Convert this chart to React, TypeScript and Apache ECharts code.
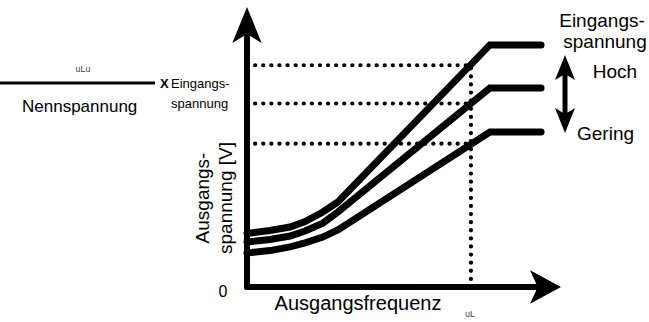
import React, { useEffect, useRef } from "react";
import * as echarts from "echarts";

// Output frequency positions (x axis units) of the curve points
const xFreq = [0, 7.6, 14.3, 19.3, 25.2, 30.2, 80.7, 97.7];
// Output voltage for high / middle / low input voltage
const highVoltage = [20.3, 21.4, 22.7, 24.8, 28.4, 32.2, 91.7, 91.7];
const midVoltage = [17.0, 18.0, 19.3, 21.2, 24.2, 28.4, 75.4, 75.4];
const lowVoltage = [12.9, 13.8, 15.2, 16.7, 18.9, 21.6, 58.7, 58.7];
// Rated (base) frequency and the reference voltage levels at it
const ratedFreq = 74.4;
const refLevels = [84, 69.5, 54.3];

const FONT = '"Liberation Sans", Arial, sans-serif';

export default function App() {
  const ref = useRef<HTMLDivElement>(null);
  useEffect(() => {
    if (!ref.current) return;
    const chart = echarts.init(ref.current, null, { renderer: "svg" });
    const curve = (name: string, ys: number[]) => ({
      name,
      type: "line",
      data: xFreq.map((x, i) => [x, ys[i]]),
      symbol: "none",
      clip: true,
      z: 5,
      lineStyle: { color: "#000", width: 7, cap: "round", join: "miter" },
    });
    const dotted = (name: string, data: number[][]) => ({
      name,
      type: "line",
      data,
      symbol: "none",
      clip: false,
      z: 3,
      lineStyle: { color: "#000", width: 4.2, type: [0.1, 8], cap: "round" },
    });
    const txt = (text: string, x: number, y: number, size: number, align = "left", extra: any = {}) => ({
      type: "text",
      x,
      y,
      style: {
        text,
        fill: "#000",
        fontSize: size,
        fontFamily: FONT,
        align,
        verticalAlign: "middle",
        ...extra,
      },
    });
    const option: any = {
      animation: false,
      backgroundColor: "#fff",
      grid: { left: 247, right: 101, top: 23, bottom: 35 },
      xAxis: {
        type: "value",
        min: 0,
        max: 100,
        axisLine: {
          show: true,
          symbol: ["none", "arrow"],
          symbolSize: [25, 31],
          symbolOffset: [0, 13],
          lineStyle: { color: "#000", width: 6 },
        },
        axisTick: { show: false },
        axisLabel: { show: false },
        splitLine: { show: false },
      },
      yAxis: {
        type: "value",
        min: 0,
        max: 100,
        axisLine: {
          show: true,
          symbol: ["none", "arrow"],
          symbolSize: [22, 36],
          symbolOffset: [0, 16],
          lineStyle: { color: "#000", width: 6 },
        },
        axisTick: { show: false },
        axisLabel: { show: false },
        splitLine: { show: false },
      },
      series: [
        ...refLevels.map((lvl, i) => dotted("ref" + i, [[0, lvl], [ratedFreq, lvl]])),
        dotted("refV", [[ratedFreq, 0], [ratedFreq, Math.max(...refLevels)]]),
        curve("Hoch", highVoltage),
        curve("Mittel", midVoltage),
        curve("Gering", lowVoltage),
      ],
      graphic: [
        { type: "line", shape: { x1: 0, y1: 83, x2: 155, y2: 83 }, style: { stroke: "#000", lineWidth: 3 } },
        txt("uLu", 83, 69, 9, "center", { fill: "#444" }),
        txt("X", 160, 83, 13, "left", { fontWeight: "bold" }),
        txt("Eingangs-", 171, 83, 13),
        txt("spannung", 171, 103, 13),
        txt("Nennspannung", 22, 106, 17),
        txt("0", 223, 291, 16, "center"),
        txt("Ausgangsfrequenz", 358, 303, 20, "center"),
        txt("uL", 470, 314, 9, "center", { fill: "#444" }),
        {
          type: "text",
          x: 214,
          y: 198,
          rotation: Math.PI / 2,
          style: {
            text: "Ausgangs-\nspannung [V]",
            fill: "#000",
            fontSize: 19,
            fontFamily: FONT,
            align: "center",
            verticalAlign: "middle",
            lineHeight: 23,
          },
        },
        txt("Eingangs-", 602, 20, 19, "center"),
        txt("spannung", 605, 41, 19, "center"),
        txt("Hoch", 615, 71, 19, "center"),
        txt("Gering", 577, 133, 19, "left"),
        { type: "line", shape: { x1: 565, y1: 72, x2: 565, y2: 116 }, style: { stroke: "#000", lineWidth: 5 } },
        {
          type: "polygon",
          shape: { points: [[565, 55], [575, 80], [565, 74], [555, 80]] },
          style: { fill: "#000" },
        },
        {
          type: "polygon",
          shape: { points: [[565, 133], [575, 108], [565, 114], [555, 108]] },
          style: { fill: "#000" },
        },
      ],
    };
    chart.setOption(option);
    return () => chart.dispose();
  }, []);
  return (
    <div
      ref={ref}
      style={{ position: "fixed", left: 0, top: 0, width: 649, height: 322, background: "#fff" }}
    />
  );
}
